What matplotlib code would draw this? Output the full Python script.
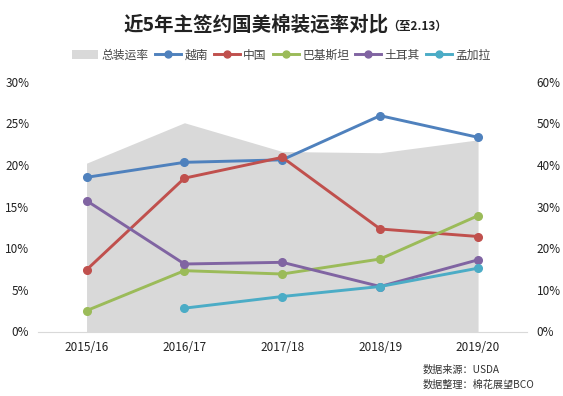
import matplotlib
matplotlib.use("Agg")
import matplotlib.pyplot as plt
from matplotlib.patches import Patch
from matplotlib.lines import Line2D

plt.rcParams['font.family'] = ['Noto Sans CJK SC', 'DejaVu Sans']

# --- data ---
seasons = ['2015/16', '2016/17', '2017/18', '2018/19', '2019/20']
total_rate = [40.4, 50.1, 43.2, 42.9, 46.0]          # right axis, %
vietnam = [18.5, 20.3, 20.6, 25.9, 23.3]
china = [7.4, 18.4, 20.9, 12.3, 11.4]
pakistan = [2.5, 7.3, 6.9, 8.7, 13.9]
turkey = [15.7, 8.1, 8.3, 5.4, 8.6]
bangladesh = [None, 2.8, 4.2, 5.4, 7.6]

series = [
    ('越南', vietnam, '#4f81bd'),
    ('中国', china, '#c0504d'),
    ('巴基斯坦', pakistan, '#9bbb59'),
    ('土耳其', turkey, '#8064a2'),
    ('孟加拉', bangladesh, '#4bacc6'),
]

fig = plt.figure(figsize=(5.63, 3.96), dpi=100)
ax = fig.add_axes([37.6 / 563, 1 - 331.5 / 396, (527 - 37.6) / 563, 250 / 396])
ax2 = ax.twinx()
ax.set_zorder(ax2.get_zorder() + 1)
ax.patch.set_visible(False)

x = list(range(len(seasons)))

# total shipment rate as grey area on the right axis
ax2.fill_between(x, 0, total_rate, color='#d9d9d9', linewidth=0)
ax2.set_ylim(0, 60)
ax2.set_yticks(range(0, 61, 10))
ax2.set_yticklabels([f'{v}%' for v in range(0, 61, 10)])

for name, vals, col in series:
    xs = [i for i, v in zip(x, vals) if v is not None]
    ys = [v for v in vals if v is not None]
    ax.plot(xs, ys, color=col, linewidth=2.1, marker='o', markersize=5.5, label=name)

ax.set_xlim(-0.5, 4.5)
ax.set_ylim(0, 30)
ax.set_yticks(range(0, 31, 5))
ax.set_yticklabels([f'{v}%' for v in range(0, 31, 5)])
ax.set_xticks(x)
ax.set_xticklabels(seasons)

for a in (ax, ax2):
    for s in a.spines.values():
        s.set_visible(False)
    a.tick_params(length=0, labelsize=8.5, colors='#222222')
ax.spines['bottom'].set_visible(True)
ax.spines['bottom'].set_color('#d9d9d9')
ax.tick_params(axis='y', pad=6)
ax.tick_params(axis='x', pad=7)
ax2.tick_params(axis='y', pad=7)

# title
fig.text(124 / 563, 1 - 25 / 396, '近5年主签约国美棉装运率对比', fontsize=14, fontweight='bold',
         ha='left', va='center', color='#222222')
fig.text(387 / 563, 1 - 26 / 396, '（至2.13）', fontsize=8.5, fontweight='bold',
         ha='left', va='center', color='#222222')

# legend
handles = [Patch(facecolor='#d9d9d9', edgecolor='none', label='总装运率')]
for name, vals, col in series:
    handles.append(Line2D([0], [0], color=col, linewidth=2.1, marker='o', markersize=5, label=name))
fig.legend(handles=handles, loc='center', bbox_to_anchor=(0.5, 1 - 55 / 396), ncol=6,
           frameon=False, fontsize=8.5, handlelength=2.2, handletextpad=0.3,
           columnspacing=0.5, labelcolor='#444444')

# source notes
fig.text(423 / 563, 1 - 370 / 396, '数据来源：USDA', fontsize=7.3, ha='left', va='center', color='#333333')
fig.text(423 / 563, 1 - 385 / 396, '数据整理：棉花展望BCO', fontsize=7.3, ha='left', va='center', color='#333333')

fig.savefig('out.png', dpi=100)
